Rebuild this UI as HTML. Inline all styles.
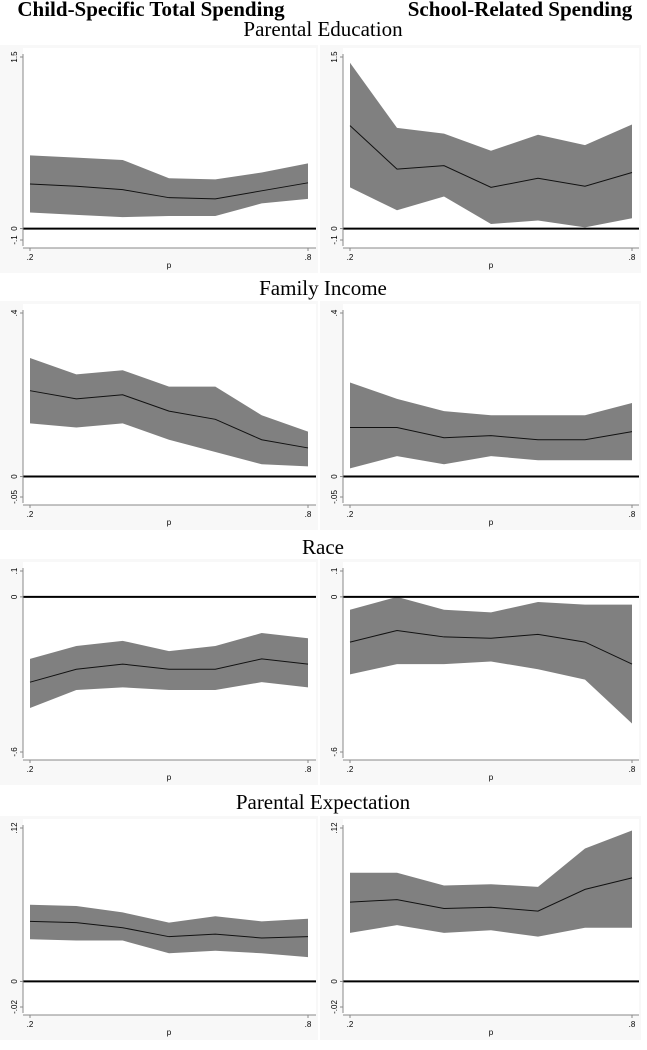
<!DOCTYPE html>
<html><head><meta charset="utf-8">
<style>
body{margin:0;background:#fff;}
svg{display:block;font-family:"Liberation Serif",serif;}
</style></head>
<body>
<svg id="fig" width="647" height="1050" viewBox="0 0 647 1050" xmlns="http://www.w3.org/2000/svg">
<rect width="647" height="1050" fill="#fff"/>
<text x="151" y="16" font-size="21" font-weight="bold" text-anchor="middle">Child-Specific Total Spending</text>
<text x="520" y="16" font-size="21" font-weight="bold" text-anchor="middle">School-Related Spending</text>
<g id="panels"></g>
</svg>
<script>
const xCats=[0.2,0.3,0.4,0.5,0.6,0.7,0.8];
const rowTitles=["Parental Education","Family Income","Race","Parental Expectation"];
const yTickLabels=[["1.5","0","-.1"],[".4","0","-.05"],[".1","0","-.6"],[".12","0","-.02"]];
const yTickVals=[[1.5,0,-0.1],[0.4,0,-0.05],[0.1,0,-0.6],[0.12,0,-0.02]];
// Parental Education
const edLeftUp=[.64,.62,.60,.44,.43,.49,.57];
const edLeftMid=[.39,.37,.34,.27,.26,.33,.40];
const edLeftLo=[.14,.12,.10,.11,.11,.22,.26];
const edRightUp=[1.45,.88,.83,.68,.82,.73,.91];
const edRightMid=[.90,.52,.55,.36,.44,.37,.49];
const edRightLo=[.36,.16,.28,.04,.07,.01,.09];
// Family Income
const incLeftUp=[.29,.25,.26,.22,.22,.15,.11];
const incLeftMid=[.21,.19,.20,.16,.14,.09,.07];
const incLeftLo=[.13,.12,.13,.09,.06,.03,.025];
const incRightUp=[.23,.19,.16,.15,.15,.15,.18];
const incRightMid=[.12,.12,.095,.10,.09,.09,.11];
const incRightLo=[.02,.05,.03,.05,.04,.04,.04];
// Race
const raceLeftUp=[-.24,-.19,-.17,-.21,-.19,-.14,-.16];
const raceLeftMid=[-.33,-.28,-.26,-.28,-.28,-.24,-.26];
const raceLeftLo=[-.43,-.36,-.35,-.36,-.36,-.33,-.35];
const raceRightUp=[-.05,0,-.05,-.06,-.02,-.03,-.03];
const raceRightMid=[-.175,-.13,-.155,-.16,-.145,-.175,-.26];
const raceRightLo=[-.30,-.26,-.26,-.25,-.28,-.32,-.49];
// Parental Expectation
const expLeftUp=[.060,.059,.054,.046,.051,.047,.049];
const expLeftMid=[.047,.046,.042,.035,.037,.034,.035];
const expLeftLo=[.033,.032,.032,.022,.024,.022,.019];
const expRightUp=[.085,.085,.075,.076,.074,.104,.118];
const expRightMid=[.062,.064,.057,.058,.055,.072,.081];
const expRightLo=[.038,.044,.038,.040,.035,.042,.042];

const series=[
 [[edLeftUp,edLeftMid,edLeftLo],[edRightUp,edRightMid,edRightLo]],
 [[incLeftUp,incLeftMid,incLeftLo],[incRightUp,incRightMid,incRightLo]],
 [[raceLeftUp,raceLeftMid,raceLeftLo],[raceRightUp,raceRightMid,raceRightLo]],
 [[expLeftUp,expLeftMid,expLeftLo],[expRightUp,expRightMid,expRightLo]]
];
const rowTop=[57,313,571,828];
const rowBot=[240,497,752,1007];
const titleY=[36,295,554,809];
const NS="http://www.w3.org/2000/svg";
const G=document.getElementById('panels');
function mk(tag,attrs,parent){const e=document.createElementNS(NS,tag);for(const k in attrs)e.setAttribute(k,attrs[k]);(parent||G).appendChild(e);return e;}
const cols=[{x0:30,x1:308,ax:23,bx0:18,bx1:318},{x0:350,x1:632,ax:343,bx0:338,bx1:641}];
for(let r=0;r<4;r++){
  const t=mk('text',{x:323,y:titleY[r],'font-size':21,'text-anchor':'middle'});
  t.textContent=rowTitles[r];
  
  
  const vTop=yTickVals[r][0],vBot=yTickVals[r][2];
  const yS=v=>rowTop[r]+(vTop-v)/(vTop-vBot)*(rowBot[r]-rowTop[r]);
  for(let c=0;c<2;c++){
    const C=cols[c];
    const xS=p=>C.x0+(p-0.2)/0.6*(C.x1-C.x0);
    const g=mk('g',{});
    
    
    const bg=mk('rect',{x:C.bx0-18,y:rowTop[r]-12,width:C.bx1-C.bx0+18,height:rowBot[r]-rowTop[r]+45,fill:'#f8f8f8'},g);
    
    
    mk('rect',{x:C.ax,y:rowTop[r]-9,width:C.bx1-C.ax-2,height:rowBot[r]-rowTop[r]+17,fill:'#fff'},g);
    const [up,mid,lo]=series[r][c];
    let d='';
    xCats.forEach((p,i)=>{d+=(i?'L':'M')+xS(p)+','+yS(up[i]);});
    for(let i=xCats.length-1;i>=0;i--)d+='L'+xS(xCats[i])+','+yS(lo[i]);
    const band=mk('path',{d:d+'Z',fill:'#808080'},g);
    
    
    let dl='';
    xCats.forEach((p,i)=>{dl+=(i?'L':'M')+xS(p)+','+yS(mid[i]);});
    const ln=mk('path',{d:dl,fill:'none',stroke:'#111','stroke-width':1},g);
    
    
    const z=mk('line',{x1:C.ax,x2:C.bx1-2,y1:yS(0),y2:yS(0),stroke:'#000','stroke-width':2},g);
    
    
    mk('line',{x1:C.ax,x2:C.ax,y1:rowTop[r]-3,y2:rowBot[r]+6,stroke:'#888','stroke-width':1},g);
    mk('line',{x1:C.ax,x2:C.bx1-2,y1:rowBot[r]+8,y2:rowBot[r]+8,stroke:'#888','stroke-width':1},g);
    yTickVals[r].forEach((v,k)=>{
      mk('line',{x1:C.ax-3,x2:C.ax,y1:yS(v),y2:yS(v),stroke:'#888'},g);
      const tl=mk('text',{x:0,y:0,'font-size':8,'font-family':'Liberation Sans, sans-serif','text-anchor':'middle',transform:`translate(${C.ax-6},${yS(v)}) rotate(-90)`},g);
      tl.textContent=yTickLabels[r][k];
      
      
    });
    [[0.2,'.2'],[0.8,'.8']].forEach(([p,s])=>{
      mk('line',{x1:xS(p),x2:xS(p),y1:rowBot[r]+8,y2:rowBot[r]+11,stroke:'#888'},g);
      const xl=mk('text',{x:xS(p),y:rowBot[r]+20,'font-size':8,'font-family':'Liberation Sans, sans-serif','text-anchor':'middle'},g);
      xl.textContent=s;
      
      
    });
    const xt=mk('text',{x:(C.x0+C.x1)/2,y:rowBot[r]+28,'font-size':8,'font-family':'Liberation Sans, sans-serif','text-anchor':'middle'},g);
    xt.textContent='p';
    
    
  }
}
</script>
</body></html>
